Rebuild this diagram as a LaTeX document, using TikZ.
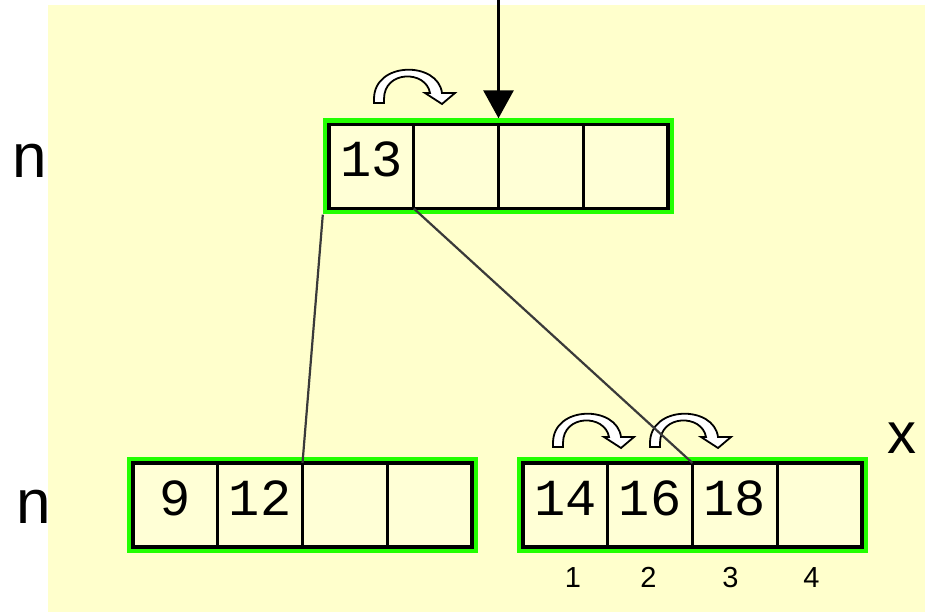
\documentclass[tikz,border=0pt]{standalone}
\usepackage{fontspec}
\setmainfont{Liberation Sans}
\newfontfamily\cellfont{Liberation Mono}
\usetikzlibrary{arrows.meta,positioning,fit,backgrounds}
\definecolor{bgyellow}{HTML}{FFFFCC}
\definecolor{cellfill}{HTML}{FFFFD6}
\definecolor{glow}{HTML}{22FF00}
\definecolor{edge}{HTML}{3A3A3A}
\tikzset{
  cell/.style={draw=none, fill=cellfill, minimum width=84.75pt,
    minimum height=84pt, inner sep=0pt, outer sep=0pt,
    font=\cellfont\fontsize{52}{52}\selectfont, text height=33pt, text depth=12pt},
  cellline/.style={draw=black, line width=2.6pt},
  glowframe/.style={fill=glow, draw=none, inner sep=6pt},
  blackframe/.style={draw=black, line width=3.5pt, inner sep=0pt, outer sep=0pt},
  conn/.style={draw=edge, line width=2.2pt},
  nlabel/.style={font=\fontsize{62}{62}\selectfont, inner sep=0pt},
  xlabel/.style={font=\fontsize{58}{58}\selectfont, inner sep=0pt},
  idx/.style={font=\fontsize{29}{29}\selectfont, inner sep=0pt},
  curvedarrow/.pic={
    \draw[line width=1.8pt, fill=white, line join=miter]
      (0,0) -- (0,-4) .. controls (0,-42) and (64,-42) .. (68,-10)
      -- (81,-10) -- (68,1) -- (51,-10) -- (56,-10)
      .. controls (52,-33) and (10,-33) .. (10,-4) -- (10,0) -- cycle;
  }
}
\begin{document}
\begin{tikzpicture}[x=1pt,y=-1pt]
\useasboundingbox (0,0) rectangle (925,612);

% top node
\node[cell] (t1) at (371.375,166.5) {13};
\node[cell, right=0pt of t1] (t2) {};
\node[cell, right=0pt of t2] (t3) {};
\node[cell, right=0pt of t3] (t4) {};
% bottom left node
\node[cell] (l1) at (175.375,505) {9};
\node[cell, right=0pt of l1] (l2) {12};
\node[cell, right=0pt of l2] (l3) {};
\node[cell, right=0pt of l3] (l4) {};
% bottom right node
\node[cell] (r1) at (565.375,505) {14};
\node[cell, right=0pt of r1] (r2) {16};
\node[cell, right=0pt of r2] (r3) {18};
\node[cell, right=0pt of r3] (r4) {};

\foreach \c in {t1,t2,t3,t4,l1,l2,l3,l4,r1,r2,r3,r4}
  \draw[cellline] (\c.north west) rectangle (\c.south east);

\node[blackframe, fit=(t1)(t4)] (tb) {};
\node[blackframe, fit=(l1)(l4)] (lb) {};
\node[blackframe, fit=(r1)(r4)] (rb) {};

\begin{scope}[on background layer]
  \fill[white] (0,0) rectangle (925,612);
  \fill[bgyellow] (48,5) rectangle (925,612);
  \node[glowframe, fit=(t1)(t4)] (tn) {};
  \node[glowframe, fit=(l1)(l4)] (ln) {};
  \node[glowframe, fit=(r1)(r4)] (rn) {};
\end{scope}

% curved arrows
\pic at (374,103) {curvedarrow};
\pic at (553,447) {curvedarrow};
\pic at (650,447) {curvedarrow};

% incoming pointer
\coordinate (src) at (498.5,0);
\draw[line width=3pt, -{Triangle[length=28pt,width=30pt]}] (src) -- (t2.north east |- tn.north);

% tree edges
\draw[conn] (tn.south west) -- (l2.north east);
\draw[conn] (t1.south east) -- (r2.north east);

% labels
\node[nlabel, anchor=base] (n1) at (30,178) {n};
\node[nlabel, anchor=base] (n2) at (34,523) {n};
\node[xlabel, anchor=base] (xl) at (901.5,453) {x};
\node[idx, anchor=base] (i1) at (573,587) {1};
\node[idx, anchor=base] (i2) at (648.5,587) {2};
\node[idx, anchor=base] (i3) at (730.5,587) {3};
\node[idx, anchor=base] (i4) at (811.5,587) {4};
\end{tikzpicture}
\end{document}
